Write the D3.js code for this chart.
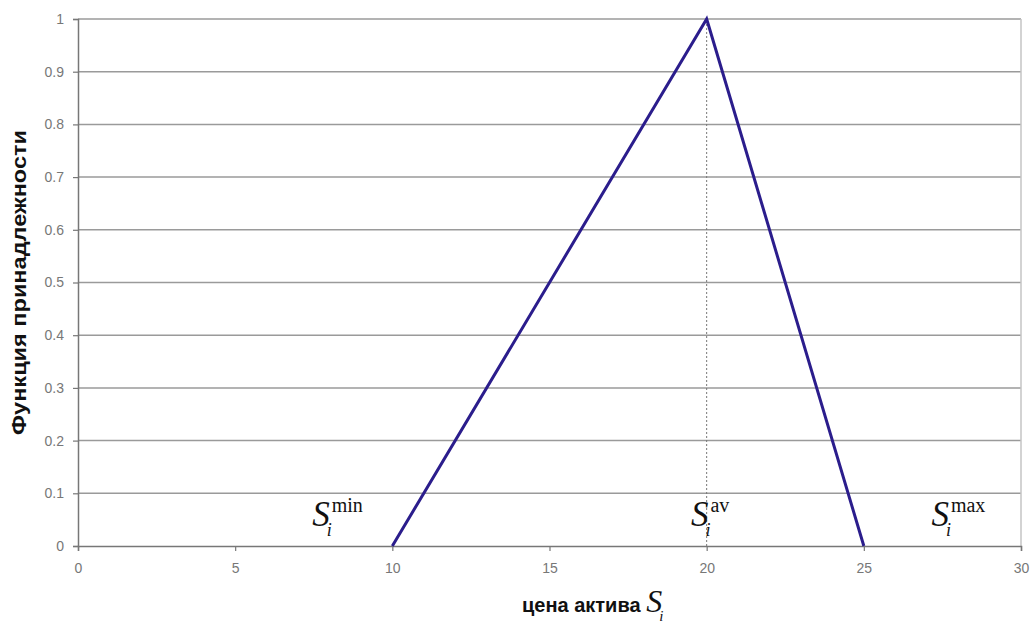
<!DOCTYPE html>
<html>
<head>
<meta charset="utf-8">
<script src="https://cdn.jsdelivr.net/npm/d3@7"></script>
<style>
  body { margin: 0; background: #fff; }
  svg { display: block; }
  .tick text { font-family: "Liberation Sans", Arial, sans-serif; font-size: 14px; fill: #777; }
</style>
</head>
<body>
<svg id="chart" width="1035" height="624"></svg>
<script>
// membership function: triangle points
const priceX = [10, 20, 25];
const memberY = [0, 1, 0];

const xTicks = [0, 5, 10, 15, 20, 25, 30];
const yTicks = [0, 0.1, 0.2, 0.3, 0.4, 0.5, 0.6, 0.7, 0.8, 0.9, 1];

// S labels: left edge given in price units
const labelX = [7.45, 19.5, 27.15];
const labelSup = ["min", "av", "max"];

const svg = d3.select("#chart");
const margin = { top: 19, right: 14, bottom: 78, left: 78 };
const width = 1035, height = 624;

const x = d3.scaleLinear().domain([0, 30]).range([margin.left, width - margin.right]);
const y = d3.scaleLinear().domain([0, 1]).range([height - margin.bottom, margin.top]);

// gridlines
svg.append("g")
  .selectAll("line")
  .data(yTicks.filter(d => d > 0))
  .join("line")
  .attr("x1", x(0)).attr("x2", x(30))
  .attr("y1", d => y(d)).attr("y2", d => y(d))
  .attr("stroke", "#9a9a9a")
  .attr("stroke-width", 1.5);

// right border
svg.append("line")
  .attr("x1", x(30)).attr("x2", x(30))
  .attr("y1", y(1)).attr("y2", y(0))
  .attr("stroke", "#c4c4c4")
  .attr("stroke-width", 1.5);

// axes
const xAxis = svg.append("g")
  .attr("transform", `translate(0,${y(0)})`)
  .call(d3.axisBottom(x).tickValues(xTicks).tickSize(5).tickPadding(12).tickFormat(d3.format("d")));
const yAxis = svg.append("g")
  .attr("transform", `translate(${x(0)},0)`)
  .call(d3.axisLeft(y).tickValues(yTicks).tickSize(5).tickPadding(9).tickFormat(d => d === 0 ? "0" : d === 1 ? "1" : d3.format(".1f")(d)));
[xAxis, yAxis].forEach(a => {
  a.select(".domain").attr("stroke", "#777").attr("stroke-width", 1.5);
  a.selectAll(".tick line").attr("stroke", "#777").attr("stroke-width", 1.2);
});

// dotted vertical at peak
svg.append("line")
  .attr("x1", x(20)).attr("x2", x(20))
  .attr("y1", y(0)).attr("y2", y(1))
  .attr("stroke", "#777")
  .attr("stroke-width", 1)
  .attr("stroke-dasharray", "2,2");

// triangle line
const pts = priceX.map((d, i) => [d, memberY[i]]);
svg.append("path")
  .datum(pts)
  .attr("fill", "none")
  .attr("stroke", "#2b1d8c")
  .attr("stroke-width", 3)
  .attr("stroke-linejoin", "miter")
  .attr("d", d3.line().x(d => x(d[0])).y(d => y(d[1])));

// S labels, one text each: S, sub i, sup
const serif = '"Liberation Serif", "DejaVu Serif", serif';
labelX.forEach((v, i) => {
  const t = svg.append("text")
    .attr("x", x(v)).attr("y", 526)
    .attr("font-family", serif)
    .attr("fill", "#111");
  t.append("tspan").attr("font-style", "italic").attr("font-size", 35).text("S");
  t.append("tspan").attr("font-style", "italic").attr("font-size", 18)
    .attr("dx", -3).attr("dy", 10).text("i");
  t.append("tspan").attr("font-size", 20)
    .attr("dx", 0).attr("dy", -24).text(labelSup[i]);
});

// y-axis title
svg.append("text")
  .attr("transform", `translate(26,${(y(0) + y(1)) / 2 + 0}) rotate(-90)`)
  .attr("text-anchor", "middle")
  .attr("font-family", '"Liberation Sans", Arial, sans-serif')
  .attr("font-weight", "bold")
  .attr("font-size", 21).attr("fill", "#111")
  .attr("textLength", 305).attr("lengthAdjust", "spacingAndGlyphs")
  .text("Функция принадлежности");

// x-axis title
const xt = svg.append("text")
  .attr("x", 522).attr("y", 612)
  .attr("fill", "#111");
xt.append("tspan")
  .attr("font-family", '"Liberation Sans", Arial, sans-serif')
  .attr("font-weight", "bold")
  .attr("font-size", 20)
  .text("цена актива ");
xt.append("tspan")
  .attr("font-family", serif).attr("font-style", "italic")
  .attr("font-size", 32)
  .text("S");
xt.append("tspan")
  .attr("font-family", serif).attr("font-style", "italic")
  .attr("font-size", 15)
  .attr("dx", -3).attr("dy", 9)
  .text("i");
</script>
</body>
</html>
